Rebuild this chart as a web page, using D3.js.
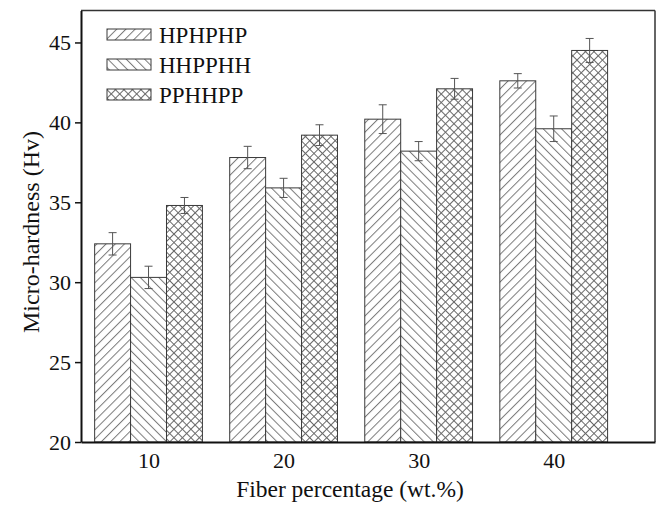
<!DOCTYPE html>
<html lang="en">
<head>
  <meta charset="UTF-8">
  <title>Micro-hardness vs fiber percentage</title>
  <script src="https://d3js.org/d3.v7.min.js"></script>
  <style>
    body { margin: 0; background: #fff; }
    svg { display: block; }
    text { font-family: "Liberation Serif", "Times New Roman", serif; fill: #111; }
  </style>
</head>
<body>
  <svg id="chart" width="662" height="508"></svg>
  <script>
    // Data
    const fiberPct = [10, 20, 30, 40];
    const seriesNames = ["HPHPHP", "HHPPHH", "PPHHPP"];
    const hphphp = [32.4, 37.8, 40.2, 42.6];
    const hhpphh = [30.3, 35.9, 38.2, 39.6];
    const pphhpp = [34.8, 39.2, 42.1, 44.5];
    const hphphpErr = [0.7, 0.7, 0.9, 0.45];
    const hhpphhErr = [0.7, 0.6, 0.6, 0.8];
    const pphhppErr = [0.5, 0.65, 0.65, 0.75];
    const yTicks = [20, 25, 30, 35, 40, 45];

    const series = [
      { name: seriesNames[0], values: hphphp, errs: hphphpErr, pat: "url(#fwd)" },
      { name: seriesNames[1], values: hhpphh, errs: hhpphhErr, pat: "url(#back)" },
      { name: seriesNames[2], values: pphhpp, errs: pphhppErr, pat: "url(#cross)" }
    ];

    const svg = d3.select("#chart");
    const plotL = 81, plotR = 655, plotT = 10.5, plotB = 442;

    const x = d3.scaleLinear().domain([5, 47.5]).range([plotL, plotR]);
    const y = d3.scaleLinear().domain([20, 47]).range([plotB, plotT]);
    const barW = 2.66; // in x units

    // hatch patterns
    const defs = svg.append("defs");
    function linePattern(id, angle, size) {
      const p = defs.append("pattern")
        .attr("id", id)
        .attr("patternUnits", "userSpaceOnUse")
        .attr("width", size).attr("height", size)
        .attr("patternTransform", `rotate(${angle})`);
      p.append("rect").attr("width", size).attr("height", size).attr("fill", "#fff");
      p.append("line")
        .attr("x1", 0.5).attr("y1", 0).attr("x2", 0.5).attr("y2", size)
        .attr("stroke", "#7a7a7a").attr("stroke-width", 1);
    }
    linePattern("fwd", 45, 6.5);
    linePattern("back", -45, 6.5);
    const cp = defs.append("pattern")
      .attr("id", "cross")
      .attr("patternUnits", "userSpaceOnUse")
      .attr("width", 6).attr("height", 6)
      .attr("patternTransform", "rotate(45)");
    cp.append("rect").attr("width", 6).attr("height", 6).attr("fill", "#fff");
    cp.append("line").attr("x1", 0.5).attr("y1", 0).attr("x2", 0.5).attr("y2", 6)
      .attr("stroke", "#6a6a6a").attr("stroke-width", 1);
    cp.append("line").attr("x1", 0).attr("y1", 0.5).attr("x2", 6).attr("y2", 0.5)
      .attr("stroke", "#6a6a6a").attr("stroke-width", 1);

    // bars
    series.forEach((s, i) => {
      const off = (i - 1) * barW;
      svg.append("g").selectAll("rect")
        .data(fiberPct.map((f, j) => ({ f, v: s.values[j] })))
        .join("rect")
        .attr("x", d => x(d.f + off - barW / 2))
        .attr("y", d => y(d.v))
        .attr("width", d => x(d.f + off + barW / 2) - x(d.f + off - barW / 2))
        .attr("height", d => y(20) - y(d.v))
        .attr("fill", s.pat)
        .attr("stroke", "#3a3a3a")
        .attr("stroke-width", 1);

      // error bars
      const eg = svg.append("g").attr("stroke", "#555").attr("stroke-width", 1);
      fiberPct.forEach((f, j) => {
        const cx = x(f + off);
        const hi = y(s.values[j] + s.errs[j]), lo = y(s.values[j] - s.errs[j]);
        eg.append("line").attr("x1", cx).attr("x2", cx).attr("y1", hi).attr("y2", lo);
        eg.append("line").attr("x1", cx - 4).attr("x2", cx + 4).attr("y1", hi).attr("y2", hi);
        eg.append("line").attr("x1", cx - 4).attr("x2", cx + 4).attr("y1", lo).attr("y2", lo);
      });
    });

    // frame
    svg.append("line").attr("x1", plotL).attr("x2", plotR).attr("y1", plotT).attr("y2", plotT)
      .attr("stroke", "#333").attr("stroke-width", 1.5);
    svg.append("line").attr("x1", plotR).attr("x2", plotR).attr("y1", plotT).attr("y2", plotB)
      .attr("stroke", "#333").attr("stroke-width", 1.5);

    // axes
    const yAxis = svg.append("g")
      .attr("transform", `translate(${plotL},0)`)
      .call(d3.axisLeft(y).tickValues(yTicks).tickSize(6).tickPadding(4).tickSizeOuter(0));
    yAxis.select(".domain").attr("stroke", "#111").attr("stroke-width", 2);
    yAxis.selectAll(".tick line").attr("stroke", "#111").attr("stroke-width", 1.5);
    yAxis.selectAll(".tick text").style("font-size", "22px")
      .style("font-family", "'Liberation Serif', serif").attr("fill", "#111");

    const xAxis = svg.append("g")
      .attr("transform", `translate(0,${plotB})`)
      .call(d3.axisBottom(x).tickValues(fiberPct).tickSize(0).tickPadding(10).tickSizeOuter(0));
    xAxis.select(".domain").attr("stroke", "#111").attr("stroke-width", 2);
    xAxis.selectAll(".tick text").style("font-size", "22px")
      .style("font-family", "'Liberation Serif', serif").attr("fill", "#111");

    // titles
    svg.append("text")
      .attr("x", 350).attr("y", 497)
      .attr("text-anchor", "middle")
      .style("font-size", "23.5px")
      .text("Fiber percentage (wt.%)");
    svg.append("text")
      .attr("transform", "translate(39,232) rotate(-90)")
      .attr("text-anchor", "middle")
      .style("font-size", "24px")
      .text("Micro-hardness (Hv)");

    // legend
    const legend = svg.append("g").attr("transform", "translate(107,29)");
    series.forEach((s, i) => {
      const row = legend.append("g").attr("transform", `translate(0,${i * 30})`);
      row.append("rect")
        .attr("width", 44).attr("height", 11)
        .attr("fill", s.pat).attr("stroke", "#3a3a3a").attr("stroke-width", 1);
      row.append("text")
        .attr("x", 52).attr("y", 14)
        .style("font-size", "23px")
        .text(s.name);
    });
  </script>
</body>
</html>
